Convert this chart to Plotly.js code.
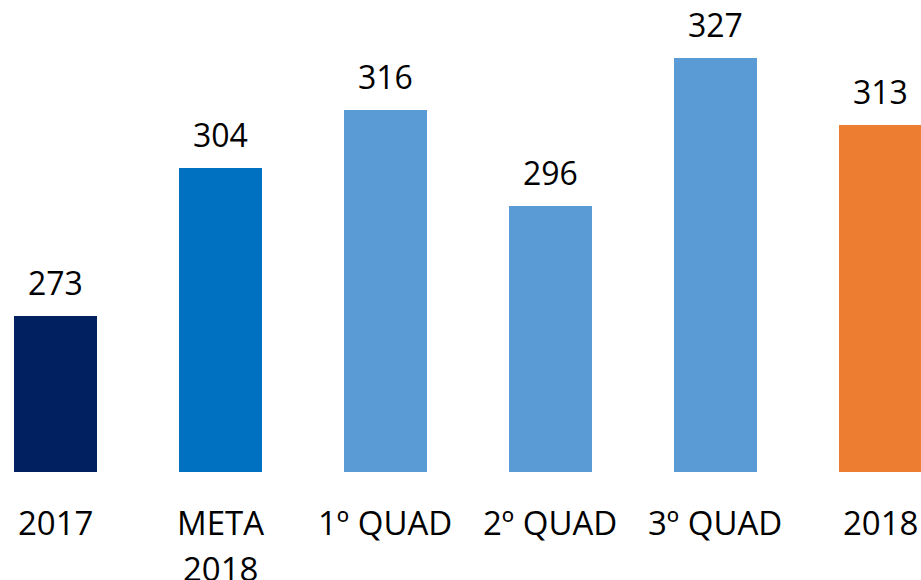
<!DOCTYPE html>
<html>
<head>
<meta charset="utf-8">
<script src="https://cdn.plot.ly/plotly-3.0.1.min.js"></script>
<style>html,body{margin:0;padding:0;background:#fff;}#chart{width:921px;height:580px;}</style>
</head>
<body>
<div id="chart"></div>
<script>
const categories = ["2017", "META 2018", "1º QUAD", "2º QUAD", "3º QUAD", "2018"];
const tickLines = [["2017"], ["META", "2018"], ["1º QUAD"], ["2º QUAD"], ["3º QUAD"], ["2018"]];
const values = [273, 304, 316, 296, 327, 313];
const barColors = ["#002060", "#0070C0", "#5B9BD5", "#5B9BD5", "#5B9BD5", "#ED7D31"];

const FONT = "Open Sans, Noto Sans, sans-serif";
const idx = categories.map((c, i) => i);

const trace = {
  type: "bar",
  x: idx,
  y: values,
  width: 0.5,
  marker: {color: barColors, line: {width: 0}},
  hoverinfo: "skip"
};

const annotations = [];
values.forEach((v, i) => {
  annotations.push({
    x: i, y: v, xref: "x", yref: "y",
    text: String(v), showarrow: false,
    yanchor: "bottom", yshift: 10,
    font: {family: FONT, size: 32, color: "#000"}
  });
});
tickLines.forEach((lines, i) => {
  lines.forEach((ln, j) => {
    annotations.push({
      x: i, y: 0, xref: "x", yref: "paper",
      text: ln, showarrow: false,
      yanchor: "top", yshift: -26 - j * 46,
      font: {family: FONT, size: 33, color: "#000"}
    });
  });
});

const layout = {
  width: 921, height: 580,
  margin: {l: 0, r: 0, t: 0, b: 108, pad: 0},
  paper_bgcolor: "#fff", plot_bgcolor: "#fff",
  showlegend: false,
  bargap: 0,
  xaxis: {range: [-0.336, 5.246], showgrid: false, zeroline: false, showline: false, showticklabels: false, ticks: "", fixedrange: true},
  yaxis: {range: [240.38, 339.06], showgrid: false, zeroline: false, showline: false, showticklabels: false, ticks: "", fixedrange: true},
  annotations: annotations
};

Plotly.newPlot("chart", [trace], layout, {displayModeBar: false, staticPlot: true});
</script>
</body>
</html>
